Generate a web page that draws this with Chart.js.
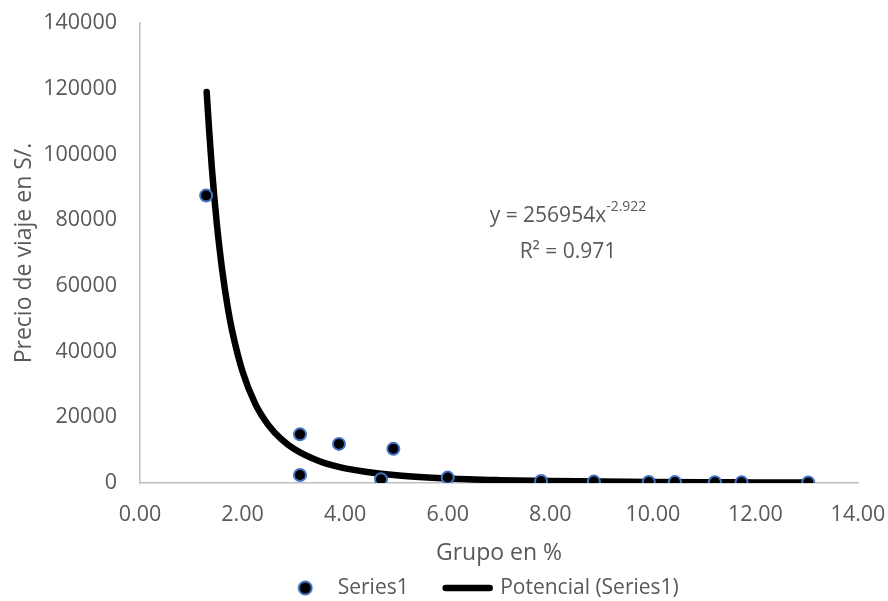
<!DOCTYPE html>
<html>
<head>
<meta charset="utf-8">
<script src="https://cdn.jsdelivr.net/npm/chart.js@4.4.1/dist/chart.umd.min.js"></script>
<style>
  html, body { margin: 0; padding: 0; background: #fff; }
  #wrap { width: 888px; height: 601px; }
</style>
</head>
<body>
<div id="wrap"><canvas id="scatterChart"></canvas></div>
<script>
// Observed points (Grupo en %, Precio de viaje en S/.)
const groupPct = [1.29, 3.12, 3.12, 3.88, 4.70, 4.94, 6.00, 7.82, 8.85, 9.92, 10.43, 11.21, 11.73, 13.03];
const travelPrice = [87500, 14800, 2430, 11900, 1150, 10400, 1650, 600, 420, 300, 270, 220, 200, 130];

// Trendline (Potencial)
const trendX = [1.30, 1.35, 1.40, 1.45, 1.50, 1.60, 1.70, 1.80, 2.00, 2.25, 2.50, 2.75, 3.00, 3.50, 4.00, 5.00, 6.00, 7.00, 8.00, 9.00, 10.00, 11.00, 12.00, 13.03];
const trendY = [119000, 106900, 96100, 86800, 78600, 65100, 54500, 46100, 33900, 24000, 17700, 13400, 10400, 6600, 4470, 2330, 1370, 870, 590, 420, 310, 230, 180, 140];

const xTicks = [0, 2, 4, 6, 8, 10, 12, 14];
const yTicks = [0, 20000, 40000, 60000, 80000, 100000, 120000, 140000];

const textColor = '#595959';
const axisColor = '#bfbfbf';
const fontFamily = '"Open Sans", "Liberation Sans", sans-serif';

// legend marker for the points (circle, black with blue rim)
const dot = document.createElement('canvas');
dot.width = 18; dot.height = 18;
const dctx = dot.getContext('2d');
dctx.beginPath();
dctx.arc(9, 9, 6.5, 0, Math.PI * 2);
dctx.fillStyle = '#000';
dctx.fill();
dctx.lineWidth = 2;
dctx.strokeStyle = '#4472c4';
dctx.stroke();

const equationLabel = {
    id: 'equationLabel',
    afterLayout(chart) {
        // place the legend like the original (shifted right, near bottom)
        const lg = chart.legend;
        lg.left += 52;
        lg.right += 52;
        lg.top = 577.5 - 37;
    },
    afterDraw(chart) {
        const ctx = chart.ctx;
        const cx = 568;
        ctx.save();
        ctx.fillStyle = textColor;
        ctx.textBaseline = 'alphabetic';
        ctx.textAlign = 'left';
        ctx.font = '21px ' + fontFamily;
        const main = 'y = 256954x';
        const wMain = ctx.measureText(main).width;
        ctx.font = '14px ' + fontFamily;
        const sup = '-2.922';
        const wSup = ctx.measureText(sup).width;
        const x0 = cx - (wMain + wSup) / 2;
        ctx.font = '21px ' + fontFamily;
        ctx.fillText(main, x0, 222);
        ctx.font = '14px ' + fontFamily;
        ctx.fillText(sup, x0 + wMain, 211);
        ctx.font = '21px ' + fontFamily;
        ctx.textAlign = 'center';
        ctx.fillText('R² = 0.971', cx, 258);
        ctx.restore();
    }
};

const ctx = document.getElementById('scatterChart').getContext('2d');
new Chart(ctx, {
    type: 'scatter',
    data: {
        datasets: [{
            label: 'Series1',
            data: groupPct.map((x, i) => ({ x: x, y: travelPrice[i] })),
            backgroundColor: '#000000',
            borderColor: '#4472c4',
            borderWidth: 2,
            pointRadius: 6,
            pointHoverRadius: 6,
            order: 0
        }, {
            label: 'Potencial (Series1)',
            data: trendX.map((x, i) => ({ x: x, y: trendY[i] })),
            showLine: true,
            borderColor: '#000000',
            backgroundColor: '#000000',
            borderWidth: 6.5,
            borderCapStyle: 'round',
            pointRadius: 0,
            pointHoverRadius: 0,
            cubicInterpolationMode: 'monotone',
            order: 1
        }]
    },
    options: {
        responsive: true,
        maintainAspectRatio: false,
        animation: false,
        layout: {
            padding: { top: 23, right: 30, bottom: 0, left: 0 }
        },
        plugins: {
            tooltip: { enabled: false },
            legend: {
                position: 'bottom',
                maxHeight: 30,
                labels: {
                    color: textColor,
                    font: { family: fontFamily, size: 21 },
                    usePointStyle: true,
                    pointStyleWidth: 44,
                    boxHeight: 9,
                    padding: 37,
                    sort: (a, b) => a.datasetIndex - b.datasetIndex,
                    generateLabels: (chart) => chart.data.datasets.map((ds, i) => ({
                        text: ds.label,
                        datasetIndex: i,
                        fillStyle: '#000000',
                        strokeStyle: i === 0 ? '#4472c4' : '#000000',
                        lineWidth: i === 0 ? 2 : 6.5,
                        lineCap: 'round',
                        pointStyle: i === 0 ? dot : 'line',
                        fontColor: textColor,
                        hidden: false
                    }))
                }
            }
        },
        scales: {
            x: {
                type: 'linear',
                min: 0,
                max: 14,
                afterBuildTicks: (scale) => { scale.ticks = xTicks.map(v => ({ value: v })); },
                afterFit: (scale) => {
                    scale.height = 88;
                    scale.paddingLeft = 0;
                    scale.paddingRight = 0;
                },
                grid: { display: false, drawTicks: false },
                border: { display: true, color: axisColor, width: 1.5 },
                ticks: {
                    color: textColor,
                    padding: 19,
                    font: { family: fontFamily, size: 21.5 },
                    callback: (v) => v.toFixed(2)
                },
                title: {
                    display: true,
                    text: 'Grupo en %',
                    color: textColor,
                    font: { family: fontFamily, size: 23 },
                    padding: { top: 0, bottom: 4 }
                }
            },
            y: {
                type: 'linear',
                min: 0,
                max: 140000,
                afterBuildTicks: (scale) => { scale.ticks = yTicks.map(v => ({ value: v })); },
                afterFit: (scale) => {
                    scale.width = 140;
                    scale.paddingTop = 0;
                    scale.paddingBottom = 0;
                },
                grid: { display: false, drawTicks: false },
                border: { display: true, color: axisColor, width: 1.5 },
                ticks: {
                    color: textColor,
                    padding: 23,
                    font: { family: fontFamily, size: 21.5 },
                    callback: (v) => String(v)
                },
                title: {
                    display: true,
                    text: 'Precio de viaje en S/.',
                    color: textColor,
                    font: { family: fontFamily, size: 23 },
                    padding: { top: 11, bottom: 0 }
                }
            }
        }
    },
    plugins: [equationLabel]
});
</script>
</body>
</html>
